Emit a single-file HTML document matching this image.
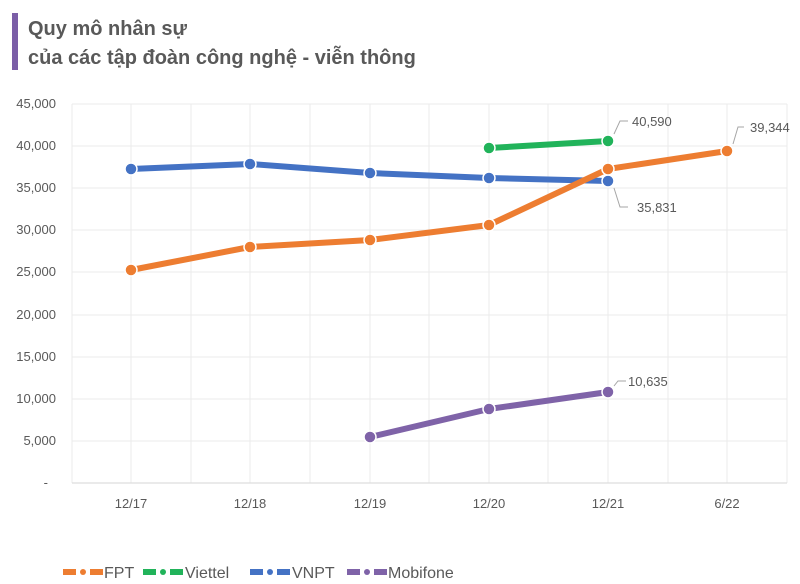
<!DOCTYPE html><html><head><meta charset="utf-8"><style>body{margin:0;background:#fff}svg{display:block}text{font-family:"Liberation Sans",sans-serif}</style></head><body>
<svg width="800" height="584" xmlns="http://www.w3.org/2000/svg">
<rect x="12" y="13" width="6" height="57" fill="#7b5ea7"/>
<text x="28" y="35" font-size="20" font-weight="bold" fill="#595959">Quy mô nhân sự</text>
<text x="28" y="64" font-size="20" font-weight="bold" fill="#595959">của các tập đoàn công nghệ - viễn thông</text>
<g stroke="#ebebeb" stroke-width="1">
<line x1="72" y1="104" x2="787" y2="104"/><line x1="72" y1="146" x2="787" y2="146"/><line x1="72" y1="188" x2="787" y2="188"/><line x1="72" y1="230" x2="787" y2="230"/><line x1="72" y1="272" x2="787" y2="272"/><line x1="72" y1="315" x2="787" y2="315"/><line x1="72" y1="357" x2="787" y2="357"/><line x1="72" y1="399" x2="787" y2="399"/><line x1="72" y1="441" x2="787" y2="441"/>
<line x1="72" y1="104" x2="72" y2="483"/><line x1="191" y1="104" x2="191" y2="483"/><line x1="310" y1="104" x2="310" y2="483"/><line x1="429" y1="104" x2="429" y2="483"/><line x1="548" y1="104" x2="548" y2="483"/><line x1="668" y1="104" x2="668" y2="483"/><line x1="787" y1="104" x2="787" y2="483"/>
<line x1="131" y1="104" x2="131" y2="483"/><line x1="250" y1="104" x2="250" y2="483"/><line x1="370" y1="104" x2="370" y2="483"/><line x1="489" y1="104" x2="489" y2="483"/><line x1="608" y1="104" x2="608" y2="483"/><line x1="727" y1="104" x2="727" y2="483"/>
</g>
<line x1="72" y1="483" x2="787" y2="483" stroke="#d6d6d6"/>
<g font-size="13" fill="#595959" text-anchor="end">
<text x="56" y="108">45,000</text><text x="56" y="150">40,000</text><text x="56" y="192">35,000</text><text x="56" y="234">30,000</text><text x="56" y="276">25,000</text><text x="56" y="319">20,000</text><text x="56" y="361">15,000</text><text x="56" y="403">10,000</text><text x="56" y="445">5,000</text><text x="48" y="487">-</text>
</g>
<g font-size="13" fill="#595959" text-anchor="middle">
<text x="131" y="508">12/17</text><text x="250" y="508">12/18</text><text x="370" y="508">12/19</text><text x="489" y="508">12/20</text><text x="608" y="508">12/21</text><text x="727" y="508">6/22</text>
</g>
<g fill="none" stroke-width="6" stroke-linejoin="round">
<polyline points="131,169 250,164 370,173 489,178 608,181" stroke="#4472c4"/>
<polyline points="131,270 250,247 370,240 489,225 608,169 727,151" stroke="#ed7d31"/>
<polyline points="489,148 608,141" stroke="#21b35a"/>
<polyline points="370,437 489,409 608,392" stroke="#7f63a8"/>
</g>
<g stroke="#fff" stroke-width="1.5">
<g fill="#4472c4"><circle cx="131" cy="169" r="6"/><circle cx="250" cy="164" r="6"/><circle cx="370" cy="173" r="6"/><circle cx="489" cy="178" r="6"/><circle cx="608" cy="181" r="6"/></g>
<g fill="#ed7d31"><circle cx="131" cy="270" r="6"/><circle cx="250" cy="247" r="6"/><circle cx="370" cy="240" r="6"/><circle cx="489" cy="225" r="6"/><circle cx="608" cy="169" r="6"/><circle cx="727" cy="151" r="6"/></g>
<g fill="#21b35a"><circle cx="489" cy="148" r="6"/><circle cx="608" cy="141" r="6"/></g>
<g fill="#7f63a8"><circle cx="370" cy="437" r="6"/><circle cx="489" cy="409" r="6"/><circle cx="608" cy="392" r="6"/></g>
</g>
<g stroke="#a6a6a6" fill="none" stroke-width="1">
<polyline points="614,134 620,121 628,121"/>
<polyline points="733,144 738,127 744,127"/>
<polyline points="614,188 620,207 628,207"/>
<polyline points="614,386 618,381 626,381"/>
</g>
<g font-size="13" fill="#595959">
<text x="632" y="126">40,590</text><text x="750" y="132">39,344</text><text x="637" y="212">35,831</text><text x="628" y="386">10,635</text>
</g>
<g stroke-width="6" stroke-linecap="butt">
<line x1="63" y1="572" x2="76" y2="572" stroke="#ed7d31"/><circle cx="83" cy="572" r="3" fill="#ed7d31"/><line x1="90" y1="572" x2="103" y2="572" stroke="#ed7d31"/>
<line x1="143" y1="572" x2="156" y2="572" stroke="#21b35a"/><circle cx="163" cy="572" r="3" fill="#21b35a"/><line x1="170" y1="572" x2="183" y2="572" stroke="#21b35a"/>
<line x1="250" y1="572" x2="263" y2="572" stroke="#4472c4"/><circle cx="270" cy="572" r="3" fill="#4472c4"/><line x1="277" y1="572" x2="290" y2="572" stroke="#4472c4"/>
<line x1="347" y1="572" x2="360" y2="572" stroke="#7f63a8"/><circle cx="367" cy="572" r="3" fill="#7f63a8"/><line x1="374" y1="572" x2="387" y2="572" stroke="#7f63a8"/>
</g>
<g font-size="16" fill="#595959">
<text x="104" y="578">FPT</text><text x="185" y="578">Viettel</text><text x="292" y="578">VNPT</text><text x="388" y="578">Mobifone</text>
</g>
</svg></body></html>
